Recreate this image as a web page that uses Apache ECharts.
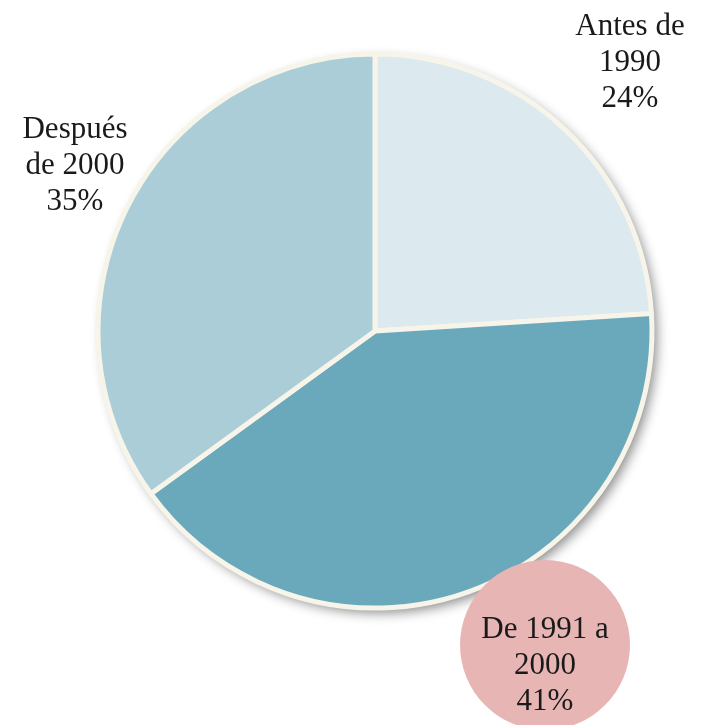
<!DOCTYPE html>
<html>
<head>
<meta charset="utf-8">
<style>
  html, body { margin: 0; padding: 0; background: #fff; }
  #chart-panel { width: 713px; height: 725px; }
</style>
<script src="https://cdn.jsdelivr.net/npm/echarts@6/dist/echarts.min.js"></script>
</head>
<body>
<div id="chart-panel"></div>
<script type="text/javascript">
// datos
var categories = ['Antes de\n1990', 'De 1991 a\n2000', 'Después\nde 2000'];
var values = [24, 41, 35];
var colors = ['#dce9ee', '#6aa9bb', '#abcdd7'];

// donde va cada etiqueta: x centro, y, alineacion vertical
var labelPos = [[630, 63, 'middle'], [545, 560, 'top'], [75, 166, 'middle']];

var myChart = echarts.init(document.getElementById('chart-panel'));

var data = categories.map(function (name, i) {
    var item = { name: name, value: values[i], itemStyle: { color: colors[i] } };
    if (i === 1) {
        item.label = {
            backgroundColor: '#e8b5b5',
            width: 170,
            padding: [52, 0, 10, 0],
            borderRadius: 85
        };
    }
    return item;
});

var option = {
    backgroundColor: '#ffffff',
    series: [
        {
            // circulo de fondo solo para la sombra
            type: 'pie',
            silent: true,
            center: [375, 331],
            radius: 277,
            animation: false,
            label: { show: false },
            labelLine: { show: false },
            itemStyle: {
                color: '#f7f4ea',
                shadowBlur: 12,
                shadowColor: 'rgba(0,0,0,0.45)',
                shadowOffsetX: 5,
                shadowOffsetY: 5
            },
            data: [1]
        },
        {
            type: 'pie',
            center: [375, 331],
            radius: 277,
            startAngle: 90,
            clockwise: true,
            animation: false,
            itemStyle: {
                borderColor: '#f7f4ea',
                borderWidth: 5
            },
            label: {
                show: true,
                color: '#1a1a1a',
                fontFamily: 'Liberation Serif',
                fontSize: 31,
                lineHeight: 36,
                width: 200,
                overflow: 'none',
                align: 'center',
                formatter: function (p) {
                    return p.name + '\n' + Math.round(p.percent) + '%';
                }
            },
            labelLine: { show: false },
            labelLayout: function (params) {
                var pos = labelPos[params.dataIndex];
                return { x: pos[0], y: pos[1], align: 'center', verticalAlign: pos[2] };
            },
            data: data
        }
    ]
};

myChart.setOption(option);
</script>
</body>
</html>
